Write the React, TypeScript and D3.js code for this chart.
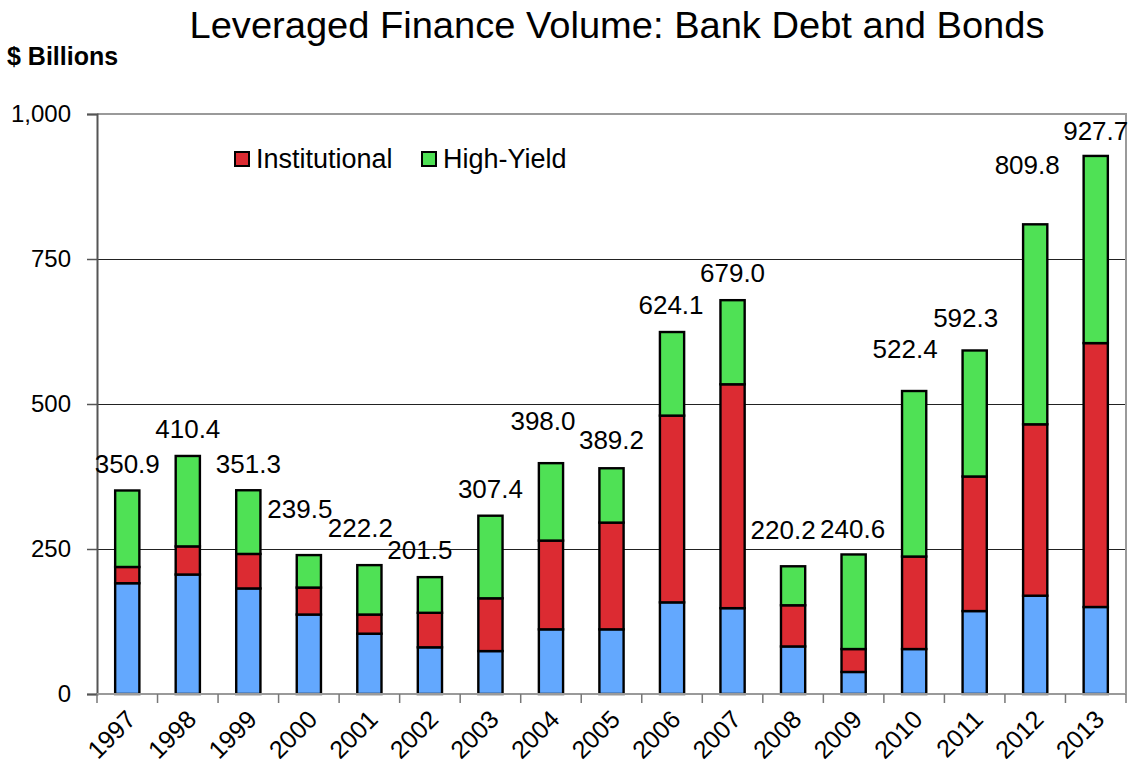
import { useEffect, useRef } from 'react';
import * as d3 from 'd3';

const years = ['1997', '1998', '1999', '2000', '2001', '2002', '2003', '2004', '2005', '2006', '2007', '2008', '2009', '2010', '2011', '2012', '2013'];
const proRata = [191, 206, 182, 137, 104, 80.5, 74, 111.5, 111.5, 158, 148, 82, 38, 77.5, 143, 169.5, 150];
const institutional = [28, 48.5, 59.5, 46.5, 33, 59.5, 91, 153, 184, 322, 386, 71, 39.5, 159.5, 232, 295.5, 455];
const totals = [350.9, 410.4, 351.3, 239.5, 222.2, 201.5, 307.4, 398.0, 389.2, 624.1, 679.0, 220.2, 240.6, 522.4, 592.3, 809.8, 927.7];
const yTicks = [0, 250, 500, 750, 1000];

// hand-placed label offsets (px): [dx, height of baseline above bar top]
const labelNudge: [number, number][] = [
  [0, 17], [0, 18], [0, 17], [-9, 37], [-9, 28], [-10, 18], [0, 18], [-8, 33], [0, 19],
  [-1, 18], [0, 18], [-10, 27], [-1, 16], [-9, 33], [-9, 23], [-8, 50], [0, 16],
];

const colors = { proRata: '#63a8fe', institutional: '#dc2b32', highYield: '#4fe155' };
const font = '"Liberation Sans", Arial, sans-serif';

export default function App() {
  const svgRef = useRef<SVGSVGElement | null>(null);

  useEffect(() => {
    if (!svgRef.current) return;
    const svg = d3.select(svgRef.current);
    svg.selectAll('*').remove();

    const width = 1134;
    const height = 776;
    const margin = { top: 114, right: 8, bottom: 82, left: 97 };
    const innerRight = width - margin.right;
    const innerBottom = height - margin.bottom;

    const rows = years.map((year, i) => ({
      year,
      proRata: proRata[i],
      institutional: institutional[i],
      highYield: totals[i] - proRata[i] - institutional[i],
      total: totals[i],
    }));

    const x = d3
      .scaleBand()
      .domain(years)
      .range([margin.left, innerRight])
      .paddingInner(0.6)
      .paddingOuter(0.3);

    const y = d3.scaleLinear().domain([0, 1000]).range([innerBottom, margin.top]);

    const stack = d3.stack<any>().keys(['proRata', 'institutional', 'highYield'])(rows);

    // title
    svg
      .append('text')
      .attr('x', 617)
      .attr('y', 38)
      .attr('text-anchor', 'middle')
      .attr('textLength', 855)
      .attr('lengthAdjust', 'spacingAndGlyphs')
      .style('font-family', font)
      .style('font-size', '36px')
      .style('fill', '#000')
      .text('Leveraged Finance Volume: Bank Debt and Bonds');

    svg
      .append('text')
      .attr('x', 7)
      .attr('y', 65)
      .style('font-family', font)
      .style('font-size', '25px')
      .style('font-weight', 'bold')
      .text('$ Billions');

    // gridlines
    svg
      .append('g')
      .selectAll('line')
      .data(yTicks.filter((t) => t > 0 && t < 1000))
      .join('line')
      .attr('x1', margin.left)
      .attr('x2', innerRight)
      .attr('y1', (d) => y(d) + 0.5)
      .attr('y2', (d) => y(d) + 0.5)
      .attr('stroke', '#222')
      .attr('stroke-width', 1);

    // plot border (top / right)
    svg
      .append('path')
      .attr('d', `M${margin.left},${y(1000)}H${innerRight}V${innerBottom}`)
      .attr('fill', 'none')
      .attr('stroke', '#9a9a9a')
      .attr('stroke-width', 2);

    // bars
    const colorKeys = ['proRata', 'institutional', 'highYield'] as const;
    svg
      .append('g')
      .selectAll('g')
      .data(stack)
      .join('g')
      .attr('fill', (_, i) => colors[colorKeys[i]])
      .selectAll('rect')
      .data((d) => d)
      .join('rect')
      .attr('x', (d) => x(d.data.year)!)
      .attr('y', (d) => y(d[1]))
      .attr('width', x.bandwidth())
      .attr('height', (d) => y(d[0]) - y(d[1]))
      .attr('stroke', '#000')
      .attr('stroke-width', 2.4);

    // y axis
    const yAxis = svg
      .append('g')
      .attr('transform', `translate(${margin.left},0)`)
      .call(d3.axisLeft(y).tickValues(yTicks).tickSize(10).tickPadding(16).tickFormat(d3.format(',')));
    yAxis.select('.domain').attr('stroke', '#555').attr('stroke-width', 2);
    yAxis.selectAll('.tick line').attr('stroke', '#555').attr('stroke-width', 1.5);
    yAxis
      .selectAll('text')
      .style('font-family', font)
      .style('font-size', '24px')
      .style('fill', '#000');

    // x axis line and ticks between categories
    const step = x.step();
    const edges = years.map((yr) => x(yr)! - step * 0.3).concat([innerRight]);
    svg
      .append('line')
      .attr('x1', margin.left)
      .attr('x2', innerRight)
      .attr('y1', innerBottom)
      .attr('y2', innerBottom)
      .attr('stroke', '#9a9a9a')
      .attr('stroke-width', 2);
    svg
      .append('g')
      .selectAll('line')
      .data(edges)
      .join('line')
      .attr('x1', (d) => d)
      .attr('x2', (d) => d)
      .attr('y1', innerBottom)
      .attr('y2', innerBottom + 9)
      .attr('stroke', '#777')
      .attr('stroke-width', 1.5);

    svg
      .append('g')
      .selectAll('text')
      .data(years)
      .join('text')
      .attr('transform', (d) => `translate(${x(d)! + x.bandwidth() / 2 + 10},${innerBottom + 27}) rotate(-45)`)
      .attr('text-anchor', 'end')
      .style('font-family', font)
      .style('font-size', '25px')
      .text((d) => d);

    // total labels
    svg
      .append('g')
      .selectAll('text')
      .data(rows)
      .join('text')
      .attr('x', (d, i) => x(d.year)! + x.bandwidth() / 2 + labelNudge[i][0])
      .attr('y', (d, i) => y(d.total) - labelNudge[i][1])
      .attr('text-anchor', 'middle')
      .style('font-family', font)
      .style('font-size', '26px')
      .text((d) => d.total.toFixed(1));

    // legend
    const legend = [
      { label: 'Institutional', color: colors.institutional, x: 235 },
      { label: 'High-Yield', color: colors.highYield, x: 422 },
    ];
    const lg = svg
      .append('g')
      .selectAll('g')
      .data(legend)
      .join('g')
      .attr('transform', (d) => `translate(${d.x},152)`);
    lg.append('rect')
      .attr('width', 14)
      .attr('height', 14)
      .attr('fill', (d) => d.color)
      .attr('stroke', '#000')
      .attr('stroke-width', 2);
    lg.append('text')
      .attr('x', 21)
      .attr('y', 16)
      .style('font-family', font)
      .style('font-size', '27px')
      .text((d) => d.label);
  }, []);

  return (
    <svg
      ref={svgRef}
      width={1134}
      height={776}
      viewBox="0 0 1134 776"
      style={{ position: 'absolute', left: 0, top: 0, background: '#fff' }}
    />
  );
}
